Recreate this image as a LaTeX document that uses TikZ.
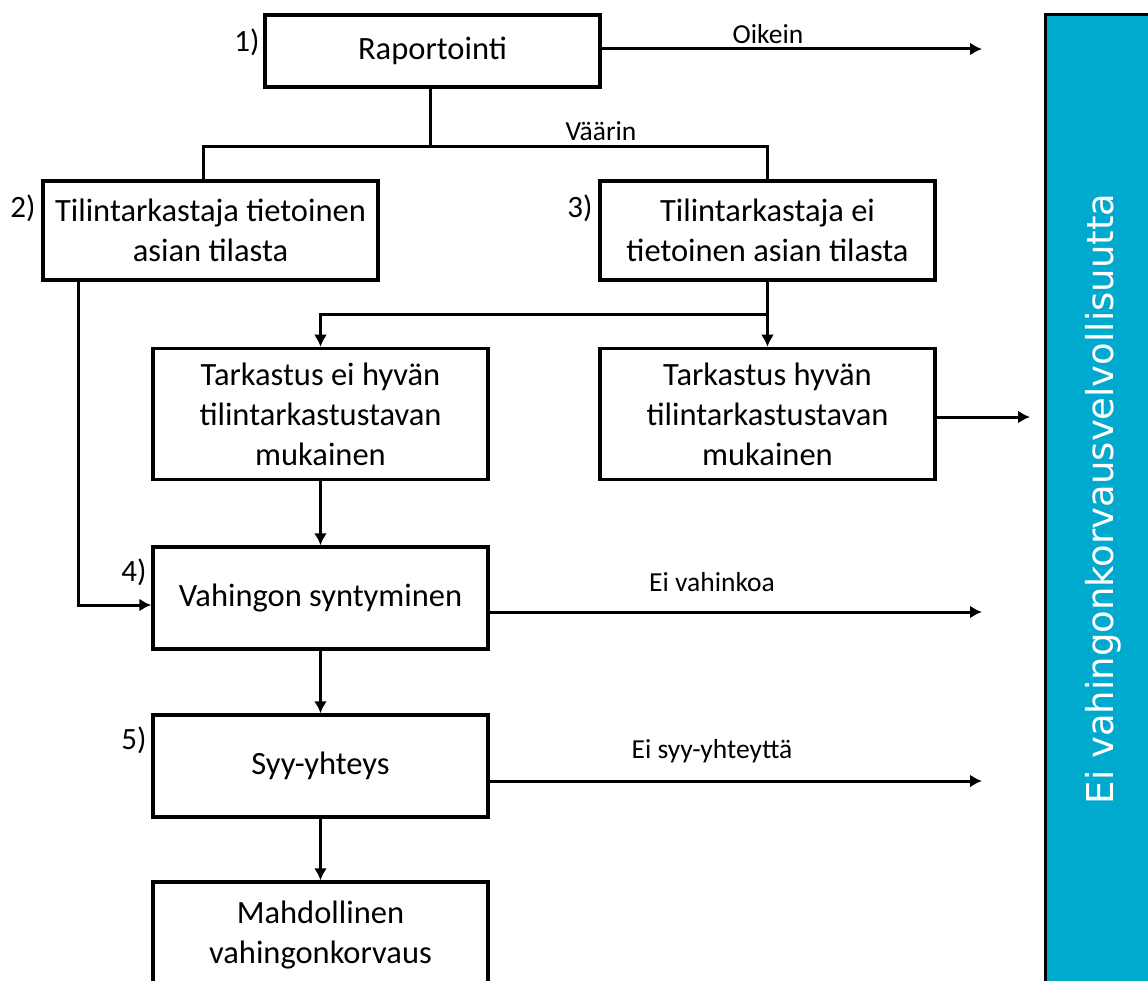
\documentclass[tikz,border=0pt]{standalone}
\usepackage{fontspec}
\setmainfont{Carlito}
\newfontfamily\palkkifont{DejaVu Sans}
\usetikzlibrary{arrows.meta}
\definecolor{palkkisin}{RGB}{0,170,206}
\tikzset{
    laatikko/.style={draw, line width=3.5pt, minimum width=335pt, align=center, inner sep=0pt, font=\fontsize{32.5}{40}\selectfont},
    viiva/.style={line width=3pt},
    nuoli/.style={line width=3pt, -{Latex[length=12pt,width=13pt]}},
    selite/.style={inner sep=0pt, font=\fontsize{27.5}{33}\selectfont},
    numero/.style={inner sep=0pt, font=\fontsize{31}{36}\selectfont}
}
\begin{document}
\begin{tikzpicture}[x=1pt,y=-1pt]
    \useasboundingbox (0,0) rectangle (1148,981);

    \node[laatikko, minimum height=72pt] (r1) at (432.5,51) {Raportointi};
    \node[laatikko, minimum height=99pt] (t2) at (210.5,230.5) {Tilintarkastaja tietoinen\\asian tilasta};
    \node[laatikko, minimum height=99pt] (t3) at (767.5,230.5) {Tilintarkastaja ei\\tietoinen asian tilasta};
    \node[laatikko, minimum height=131pt] (k3a) at (320.5,414) {Tarkastus ei hyvän\\tilintarkastustavan\\mukainen};
    \node[laatikko, minimum height=131pt] (k3b) at (767.5,414) {Tarkastus hyvän\\tilintarkastustavan\\mukainen};
    \node[laatikko, minimum height=102pt] (v4) at (320.5,598) {Vahingon syntyminen};
    \node[laatikko, minimum height=102pt] (s5) at (320.5,766) {Syy-yhteys};
    \node[laatikko, minimum height=106pt] (m6) at (320.5,935) {Mahdollinen\\vahingonkorvaus};

    % Blue bar on the right
    \draw[line width=3pt, fill=palkkisin] (1045,15) rectangle (1175,1000);
    \node[rotate=90, text=white, font=\palkkifont\fontsize{37}{44}\selectfont] (palkki) at (1103,499) {Ei vahingonkorvausvelvollisuutta};

    \coordinate (haara) at (430,147);
    \draw[viiva] (r1.south -| haara) -- (haara);
    \draw[viiva] ([xshift=-7pt]t2.north) |- (haara) -| (t3.north);

    \coordinate (oikein) at (982,49);
    \draw[nuoli] (r1.east |- oikein) -- (oikein);

    \coordinate (haara2) at (767.5,315);
    \draw[viiva] (t3.south) -- (haara2);
    \draw[nuoli] (haara2) -| (k3a.north);
    \draw[nuoli] (haara2) -- (k3b.north);

    \coordinate (hyva) at (1030,417);
    \draw[nuoli] (k3b.east |- hyva) -- (hyva);

    \coordinate (kulma) at (78,605);
    \draw[nuoli] (t2.south -| kulma) -- (kulma) -- (v4.west |- kulma);

    \foreach \a/\b in {k3a/v4, v4/s5, s5/m6} {
        \draw[nuoli] (\a.south) -- (\b.north);
    }

    \coordinate (eivahinkoa) at (982,612);
    \draw[nuoli] (v4.east |- eivahinkoa) -- (eivahinkoa);
    \coordinate (eisyy) at (982,781);
    \draw[nuoli] (s5.east |- eisyy) -- (eisyy);

    % Labels
    \node[selite] (l1) at (768,34) {Oikein};
    \node[selite] (l2) at (601,131) {Väärin};
    \node[selite] (l3) at (712,582) {Ei vahinkoa};
    \node[selite] (l4) at (712,751) {Ei syy-yhteyttä};

    \foreach \n/\x/\y in {1/247/42, 2/23/208, 3/580/208, 4/134/572, 5/134/740} {
        \node[numero] (nro\n) at (\x,\y) {\n)};
    }
\end{tikzpicture}
\end{document}
